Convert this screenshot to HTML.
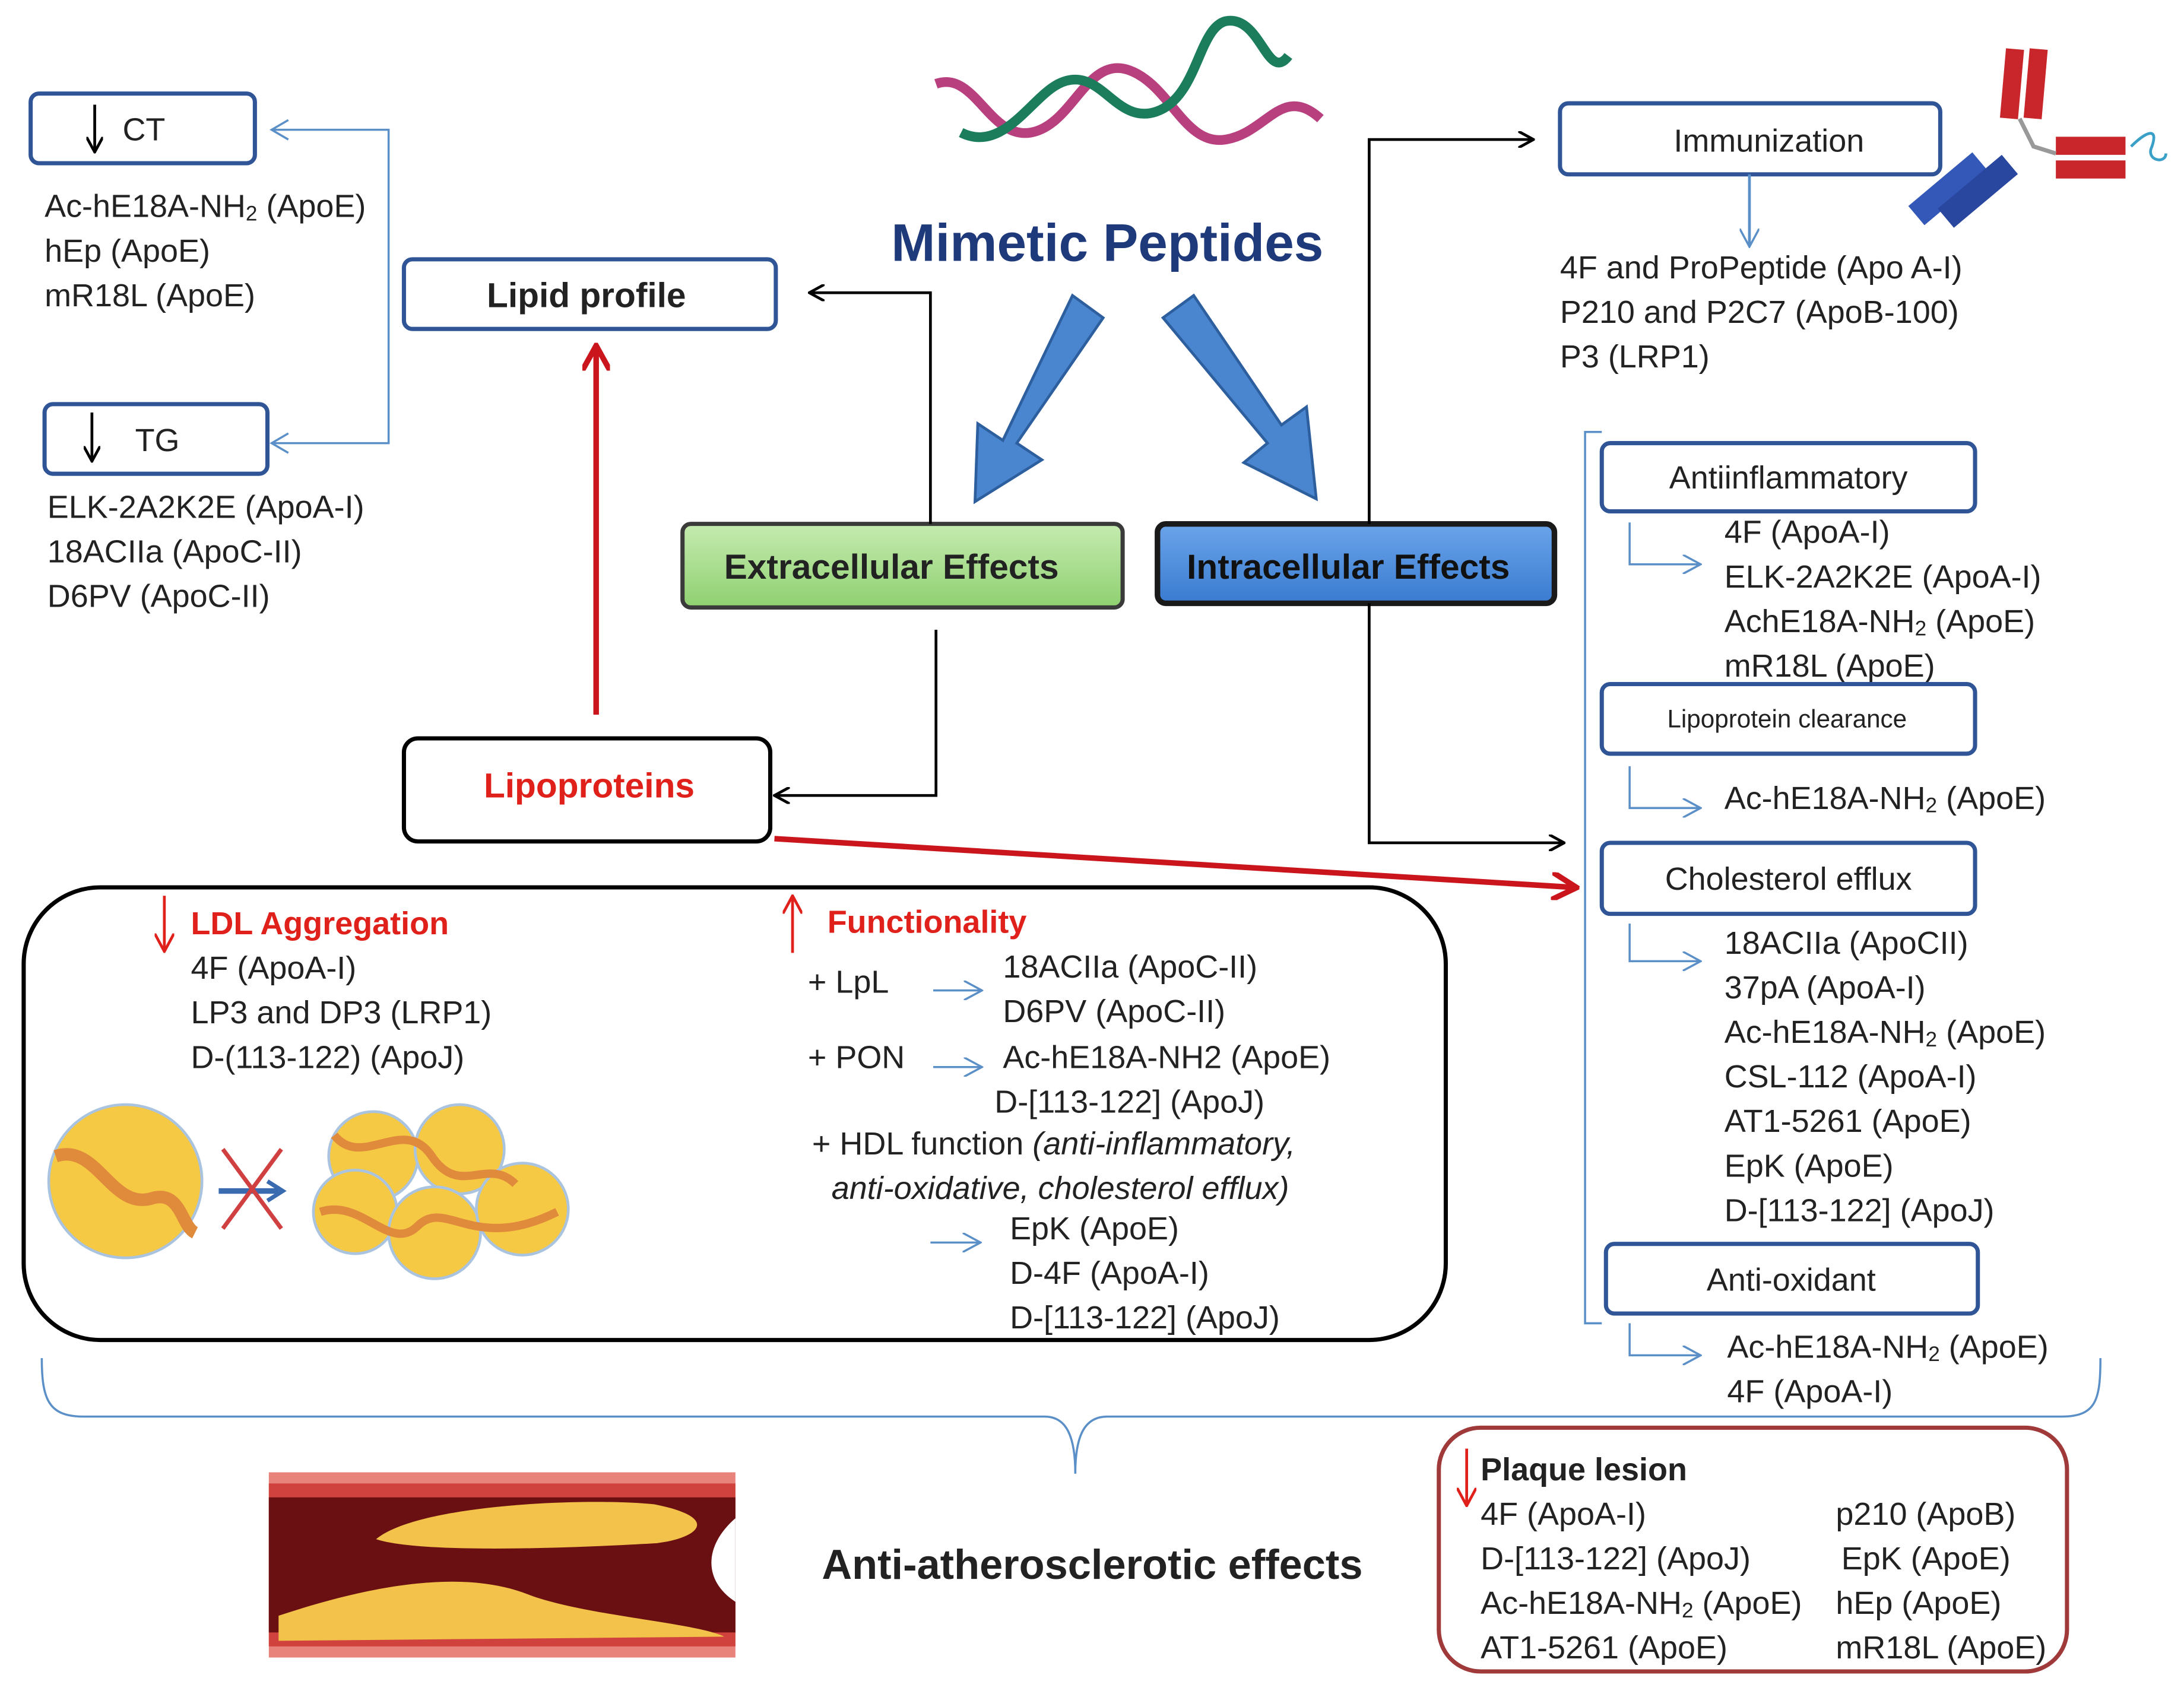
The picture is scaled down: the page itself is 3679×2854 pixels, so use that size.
<!DOCTYPE html>
<html><head><meta charset="utf-8"><style>
html,body{margin:0;padding:0;background:#fff;}
svg{display:block;font-size:23px;}
text{font-family:"Liberation Sans",sans-serif;fill:#222;dominant-baseline:central;}
.b{font-weight:bold;}
.r{fill:#e0201b;}
</style></head><body>
<svg width="3679" height="2854" viewBox="0 0 1568 1216" xmlns="http://www.w3.org/2000/svg">
<defs>
<marker id="ak" markerWidth="12" markerHeight="12" refX="10" refY="6" orient="auto" markerUnits="userSpaceOnUse"><path d="M0,0 L11,6 L0,12" fill="none" stroke="#000" stroke-width="2"/></marker>
<marker id="ab" markerWidth="14" markerHeight="14" refX="12" refY="7" orient="auto" markerUnits="userSpaceOnUse"><path d="M0,0 L13,7 L0,14" fill="none" stroke="#5b8fc7" stroke-width="1.5"/></marker>
<marker id="ar" markerWidth="20" markerHeight="20" refX="16" refY="10" orient="auto" markerUnits="userSpaceOnUse"><path d="M0,0 L18,10 L0,20" fill="none" stroke="#c9151b" stroke-width="4"/></marker>
<marker id="ar2" markerWidth="14" markerHeight="14" refX="12" refY="7" orient="auto" markerUnits="userSpaceOnUse"><path d="M0,0 L13,7 L0,14" fill="none" stroke="#e0201b" stroke-width="2"/></marker>
<linearGradient id="gg" x1="0" y1="0" x2="0" y2="1"><stop offset="0" stop-color="#c5ebb0"/><stop offset="1" stop-color="#8fd070"/></linearGradient>
<linearGradient id="bg" x1="0" y1="0" x2="0" y2="1"><stop offset="0" stop-color="#6aa4ea"/><stop offset="1" stop-color="#3a7bd0"/></linearGradient>
</defs>

<!-- DNA -->
<path d="M672,60 C700,50 710,100 740,95 C770,90 780,40 810,50 C840,60 850,105 880,100 C910,95 920,60 948,85" fill="none" stroke="#b8407f" stroke-width="7"/>
<path d="M690,95 C720,110 740,70 760,60 C790,45 800,90 830,80 C860,70 860,20 880,15 C905,10 910,60 925,40" fill="none" stroke="#1b7d5c" stroke-width="7"/>

<!-- Left top -->
<rect x="22" y="67" width="161" height="50" rx="6" fill="#fff" stroke="#2f5597" stroke-width="3"/>
<line x1="68" y1="75" x2="68" y2="108" stroke="#000" stroke-width="2" marker-end="url(#ak)"/>
<text x="88" y="93">CT</text>
<text x="32" y="148">Ac-hE18A-NH<tspan style="font-size:15px" dy="5">2</tspan><tspan dy="-5"> (ApoE)</tspan></text>
<text x="32" y="180">hEp (ApoE)</text>
<text x="32" y="212">mR18L (ApoE)</text>
<path d="M195,93 H279 V318 H195" fill="none" stroke="#5b8fc7" stroke-width="1.5"/>
<path d="M207,86 L195,93 L207,100 M207,311 L195,318 L207,325" fill="none" stroke="#5b8fc7" stroke-width="1.5"/>
<rect x="32" y="290" width="160" height="50" rx="6" fill="#fff" stroke="#2f5597" stroke-width="3"/>
<line x1="66" y1="296" x2="66" y2="330" stroke="#000" stroke-width="2" marker-end="url(#ak)"/>
<text x="97" y="316">TG</text>
<text x="34" y="364">ELK-2A2K2E (ApoA-I)</text>
<text x="34" y="396">18ACIIa (ApoC-II)</text>
<text x="34" y="428">D6PV (ApoC-II)</text>

<rect x="290" y="186" width="267" height="50" rx="6" fill="#fff" stroke="#2f5597" stroke-width="3"/>
<text x="421" y="212" class="b" text-anchor="middle" style="font-size:25px">Lipid profile</text>

<text x="795" y="174" class="b" text-anchor="middle" style="font-size:38px;fill:#1f3a7a">Mimetic Peptides</text>

<!-- big arrows -->
<path d="M770,212 L792,228 L730,318 L748,330 L700,360 L702,304 L720,316 Z" fill="#4a86d0" stroke="#2d5f9e" stroke-width="2"/>
<path d="M835,228 L857,212 L920,305 L938,292 L945,358 L893,332 L910,318 Z" fill="#4a86d0" stroke="#2d5f9e" stroke-width="2"/>

<rect x="490" y="376" width="316" height="60" rx="6" fill="url(#gg)" stroke="#3a3a3a" stroke-width="3"/>
<text x="640" y="407" class="b" text-anchor="middle" style="font-size:25px">Extracellular  Effects</text>
<rect x="831" y="376" width="285" height="57" rx="6" fill="url(#bg)" stroke="#1a1a1a" stroke-width="4"/>
<text x="968" y="407" class="b" text-anchor="middle" style="font-size:25px;fill:#111">Intracellular  Effects</text>

<path d="M668,376 V210 H582" fill="none" stroke="#000" stroke-width="2" marker-end="url(#ak)"/>
<path d="M672,452 V571 H557" fill="none" stroke="#000" stroke-width="2" marker-end="url(#ak)"/>

<rect x="290" y="530" width="263" height="74" rx="10" fill="#fff" stroke="#000" stroke-width="3"/>
<text x="423" y="564" class="b r" text-anchor="middle" style="font-size:25px">Lipoproteins</text>
<line x1="428" y1="513" x2="428" y2="250" stroke="#c9151b" stroke-width="4" marker-end="url(#ar)"/>
<line x1="556" y1="602" x2="1130" y2="637" stroke="#c9151b" stroke-width="4" marker-end="url(#ar)"/>

<path d="M983,376 V100 H1100" fill="none" stroke="#000" stroke-width="2" marker-end="url(#ak)"/>
<path d="M983,433 V605 H1122" fill="none" stroke="#000" stroke-width="2" marker-end="url(#ak)"/>

<!-- Immunization -->
<rect x="1120" y="74" width="273" height="51" rx="6" fill="#fff" stroke="#2f5597" stroke-width="3"/>
<text x="1270" y="101" text-anchor="middle">Immunization</text>
<line x1="1256" y1="125" x2="1256" y2="176" stroke="#5b8fc7" stroke-width="2" marker-end="url(#ab)"/>
<text x="1120" y="192">4F and ProPeptide (Apo A-I)</text>
<text x="1120" y="224">P210 and P2C7 (ApoB-100)</text>
<text x="1120" y="256">P3 (LRP1)</text>
<!-- antibody -->
<g>
<rect x="1438" y="35" width="13" height="50" fill="#c8262b" transform="rotate(5 1445 60)"/>
<rect x="1455" y="35" width="13" height="50" fill="#c8262b" transform="rotate(5 1462 60)"/>
<rect x="1476" y="98" width="50" height="13" fill="#c8262b"/>
<rect x="1476" y="115" width="50" height="13" fill="#c8262b"/>
<rect x="1390" y="125" width="18" height="60" fill="#3358b8" transform="rotate(50 1420 145)"/>
<rect x="1405" y="110" width="18" height="60" fill="#2a47a0" transform="rotate(50 1420 145)"/>
<path d="M1450,85 L1460,105 L1476,110" fill="none" stroke="#999" stroke-width="3"/>
<path d="M1530,105 C1540,95 1550,90 1545,105 C1540,115 1555,118 1555,110" fill="none" stroke="#3aa0c8" stroke-width="2"/>
</g>

<!-- right bracket -->
<path d="M1150,310 H1138 V950 H1150" fill="none" stroke="#5b8fc7" stroke-width="1.5"/>
<rect x="1150" y="318" width="268" height="49" rx="6" fill="#fff" stroke="#2f5597" stroke-width="3"/>
<text x="1284" y="343" text-anchor="middle">Antiinflammatory</text>
<path d="M1170,375 V405 H1220" fill="none" stroke="#5b8fc7" stroke-width="1.5" marker-end="url(#ab)"/>
<text x="1238" y="382">4F (ApoA-I)</text>
<text x="1238" y="414">ELK-2A2K2E (ApoA-I)</text>
<text x="1238" y="446">AchE18A-NH<tspan style="font-size:15px" dy="5">2</tspan><tspan dy="-5"> (ApoE)</tspan></text>
<text x="1238" y="478">mR18L (ApoE)</text>
<rect x="1150" y="491" width="268" height="50" rx="6" fill="#fff" stroke="#2f5597" stroke-width="3"/>
<text x="1283" y="516" text-anchor="middle" style="font-size:18px">Lipoprotein clearance</text>
<path d="M1170,550 V580 H1220" fill="none" stroke="#5b8fc7" stroke-width="1.5" marker-end="url(#ab)"/>
<text x="1238" y="573">Ac-hE18A-NH<tspan style="font-size:15px" dy="5">2</tspan><tspan dy="-5"> (ApoE)</tspan></text>
<rect x="1150" y="605" width="268" height="51" rx="6" fill="#fff" stroke="#2f5597" stroke-width="3"/>
<text x="1284" y="631" text-anchor="middle">Cholesterol efflux</text>
<path d="M1170,663 V690 H1220" fill="none" stroke="#5b8fc7" stroke-width="1.5" marker-end="url(#ab)"/>
<text x="1238" y="677">18ACIIa (ApoCII)</text>
<text x="1238" y="709">37pA (ApoA-I)</text>
<text x="1238" y="741">Ac-hE18A-NH<tspan style="font-size:15px" dy="5">2</tspan><tspan dy="-5"> (ApoE)</tspan></text>
<text x="1238" y="773">CSL-112 (ApoA-I)</text>
<text x="1238" y="805">AT1-5261 (ApoE)</text>
<text x="1238" y="837">EpK (ApoE)</text>
<text x="1238" y="869">D-[113-122] (ApoJ)</text>
<rect x="1153" y="893" width="267" height="50" rx="6" fill="#fff" stroke="#2f5597" stroke-width="3"/>
<text x="1286" y="919" text-anchor="middle">Anti-oxidant</text>
<path d="M1170,950 V973 H1220" fill="none" stroke="#5b8fc7" stroke-width="1.5" marker-end="url(#ab)"/>
<text x="1240" y="967">Ac-hE18A-NH<tspan style="font-size:15px" dy="5">2</tspan><tspan dy="-5"> (ApoE)</tspan></text>
<text x="1240" y="999">4F (ApoA-I)</text>

<!-- big rounded box -->
<rect x="17" y="637" width="1021" height="325" rx="55" fill="none" stroke="#000" stroke-width="3"/>
<line x1="118" y1="643" x2="118" y2="682" stroke="#e0201b" stroke-width="2" marker-end="url(#ar2)"/>
<text x="137" y="663" class="b r">LDL Aggregation</text>
<text x="137" y="695">4F (ApoA-I)</text>
<text x="137" y="727">LP3 and DP3 (LRP1)</text>
<text x="137" y="759">D-(113-122) (ApoJ)</text>
<line x1="569" y1="684" x2="569" y2="644" stroke="#e0201b" stroke-width="2" marker-end="url(#ar2)"/>
<text x="594" y="662" class="b r">Functionality</text>
<text x="580" y="705">+ LpL</text>
<line x1="670" y1="711" x2="704" y2="711" stroke="#5b8fc7" stroke-width="1.5" marker-end="url(#ab)"/>
<text x="720" y="694">18ACIIa (ApoC-II)</text>
<text x="720" y="726">D6PV (ApoC-II)</text>
<text x="580" y="759">+ PON</text>
<line x1="670" y1="766" x2="704" y2="766" stroke="#5b8fc7" stroke-width="1.5" marker-end="url(#ab)"/>
<text x="720" y="759">Ac-hE18A-NH2  (ApoE)</text>
<text x="714" y="791">D-[113-122] (ApoJ)</text>
<text x="583" y="821">+ HDL function <tspan font-style="italic">(anti-inflammatory,</tspan></text>
<text x="597" y="853" font-style="italic">anti-oxidative, cholesterol efflux)</text>
<line x1="668" y1="892" x2="703" y2="892" stroke="#5b8fc7" stroke-width="1.5" marker-end="url(#ab)"/>
<text x="725" y="882">EpK (ApoE)</text>
<text x="725" y="914">D-4F (ApoA-I)</text>
<text x="725" y="946">D-[113-122] (ApoJ)</text>

<!-- LDL illustrations -->
<circle cx="90" cy="848" r="55" fill="#f6c945" stroke="#aac4e0" stroke-width="2"/>
<path d="M40,830 C70,820 80,870 110,860 C130,855 130,880 140,885" fill="none" stroke="#e08a3c" stroke-width="9"/>
<line x1="157" y1="855" x2="200" y2="855" stroke="#3a6ab0" stroke-width="4"/>
<path d="M192,848 L203,855 L192,862" fill="none" stroke="#3a6ab0" stroke-width="3"/>
<path d="M160,825 L202,882 M202,825 L160,882" stroke="#d04040" stroke-width="3"/>
<circle cx="268" cy="830" r="32" fill="#f6c945" stroke="#aac4e0" stroke-width="2"/>
<circle cx="330" cy="825" r="32" fill="#f6c945" stroke="#aac4e0" stroke-width="2"/>
<circle cx="255" cy="870" r="30" fill="#f6c945" stroke="#aac4e0" stroke-width="2"/>
<circle cx="312" cy="885" r="33" fill="#f6c945" stroke="#aac4e0" stroke-width="2"/>
<circle cx="375" cy="868" r="33" fill="#f6c945" stroke="#aac4e0" stroke-width="2"/>
<path d="M240,815 C260,840 290,800 310,830 C330,860 350,830 370,850 M230,870 C260,860 280,900 300,880 C320,860 340,900 400,870" fill="none" stroke="#e08a3c" stroke-width="6"/>

<!-- bottom brace -->
<path d="M30,975 C30,1005 35,1017 60,1017 H750 C765,1017 772,1030 772,1058 C772,1030 779,1017 795,1017 H1480 C1505,1017 1508,1005 1508,975" fill="none" stroke="#5b8fc7" stroke-width="1.5"/>

<!-- artery -->
<rect x="193" y="1057" width="335" height="133" fill="#e8837c"/>
<rect x="193" y="1065" width="335" height="117" fill="#d0423d"/>
<rect x="193" y="1075" width="335" height="97" fill="#6b1012"/>
<path d="M270,1105 C300,1080 420,1075 470,1080 C520,1090 500,1105 470,1108 C400,1112 300,1115 270,1105 Z" fill="#f2c24a"/>
<path d="M200,1160 C260,1140 330,1125 380,1145 C420,1160 500,1165 520,1175 L200,1178 Z" fill="#f2c24a"/>
<path d="M528,1090 C505,1110 505,1135 528,1150 Z" fill="#fff"/>
<text x="590" y="1123" class="b" style="font-size:30px">Anti-atherosclerotic effects</text>

<!-- plaque -->
<rect x="1033" y="1025" width="451" height="175" rx="30" fill="none" stroke="#a0393a" stroke-width="3"/>
<line x1="1053" y1="1040" x2="1053" y2="1080" stroke="#e0201b" stroke-width="2" marker-end="url(#ar2)"/>
<text x="1063" y="1055" class="b">Plaque lesion</text>
<text x="1063" y="1087">4F (ApoA-I)</text>
<text x="1063" y="1119">D-[113-122] (ApoJ)</text>
<text x="1063" y="1151">Ac-hE18A-NH<tspan style="font-size:15px" dy="5">2</tspan><tspan dy="-5"> (ApoE)</tspan></text>
<text x="1063" y="1183">AT1-5261 (ApoE)</text>
<text x="1318" y="1087">p210 (ApoB)</text>
<text x="1322" y="1119">EpK (ApoE)</text>
<text x="1318" y="1151">hEp (ApoE)</text>
<text x="1318" y="1183">mR18L (ApoE)</text>
</svg>
</body></html>
